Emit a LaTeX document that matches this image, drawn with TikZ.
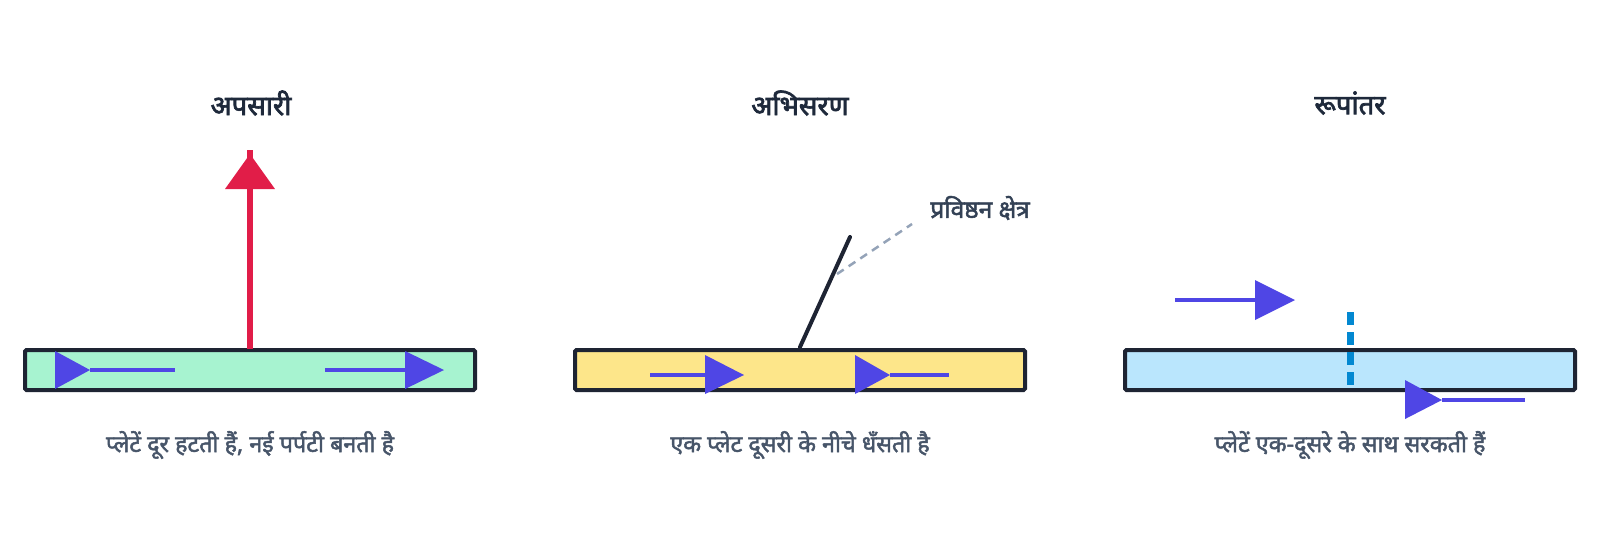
\documentclass[tikz,border=0pt]{standalone}
\usepackage{fontspec}
\newfontfamily\deva[Script=Devanagari, FakeBold=2.6]{Noto Sans}
\newfontfamily\devasemi[Script=Devanagari, FakeBold=2.0]{Noto Sans}
\definecolor{plateedge}{HTML}{1E2433}
\definecolor{mint}{HTML}{A7F3D0}
\definecolor{sand}{HTML}{FDE68A}
\definecolor{sky}{HTML}{BAE6FD}
\definecolor{redup}{HTML}{E11D48}
\definecolor{motion}{HTML}{4F46E5}
\definecolor{fault}{HTML}{0288D1}
\definecolor{leader}{HTML}{94A3B8}
\definecolor{titlecol}{HTML}{1E293B}
\definecolor{subcol}{HTML}{475569}
\definecolor{labcol}{HTML}{334155}
\tikzset{
  plate/.style={draw=plateedge, line width=4pt, rounded corners=1.5pt},
  titletext/.style={font=\deva\fontsize{27.5}{31}\selectfont, text=titlecol, inner sep=0pt},
  subtext/.style={font=\devasemi\fontsize{23.3}{27}\selectfont, text=subcol, inner sep=0pt},
  labtext/.style={font=\devasemi\fontsize{24.5}{28}\selectfont, text=labcol, inner sep=0pt},
  motionline/.style={draw=motion, line width=4.5pt},
  motionhead/.style={fill=motion},
}
\begin{document}
\begin{tikzpicture}[x=1pt,y=-1pt]
\fill[white] (0,0) rectangle (1600,550);
\useasboundingbox (0,0) rectangle (1600,550);

% ---------- Panel 1: divergent ----------
\node[titletext] (t1) at (251,103) {अपसारी};
\draw[plate, fill=mint] (25,350) rectangle (475,390);
\coordinate (p1top) at (250,349);
\coordinate (p1up) at (250,150);
\draw[draw=redup, line width=6.5pt] (p1top) -- (p1up);
\fill[redup] (225,189) -- (275,189) -- (250,154) -- cycle;
% left arrow (marker reversed)
\draw[motionline] (90,370) -- (175,370);
\fill[motionhead] (55,351) -- (55,389) -- (90,370) -- cycle;
% right arrow
\draw[motionline] (325,370) -- (405,370);
\fill[motionhead] (405,351) -- (405,389) -- (444,370) -- cycle;
\node[subtext] (s1) at (250,445) {प्लेटें दूर हटती हैं, नई पर्पटी बनती है};

% ---------- Panel 2: convergent ----------
\node[titletext] (t2) at (800,103) {अभिसरण};
\draw[plate, fill=sand] (575,350) rectangle (1025,390);
\coordinate (sub0) at (800,347);
\coordinate (sub1) at (850,237);
\draw[draw=plateedge, line width=4pt, line cap=round] (sub0) -- (sub1);
\coordinate (ld0) at (837,274);
\coordinate (ld1) at (912,224);
\draw[draw=leader, line width=2.5pt, dash pattern=on 8pt off 6pt] (ld0) -- (ld1);
\node[labtext] (lab) at (980,208) {प्रविष्ठन क्षेत्र};
\draw[motionline] (650,375) -- (705,375);
\fill[motionhead] (705,355) -- (705,394) -- (744,375) -- cycle;
\draw[motionline] (890,375) -- (949,375);
\fill[motionhead] (855,355) -- (855,394) -- (890,375) -- cycle;
\node[subtext] (s2) at (800,445) {एक प्लेट दूसरी के नीचे धँसती है};

% ---------- Panel 3: transform ----------
\node[titletext] (t3) at (1350,103) {रूपांतर};
\draw[plate, fill=sky] (1125,350) rectangle (1575,390);
\draw[motionline] (1175,300) -- (1255,300);
\fill[motionhead] (1255,280) -- (1255,320) -- (1295,300) -- cycle;
\coordinate (f0) at (1350,312);
\coordinate (f1) at (1350,385);
\draw[draw=fault, line width=7pt, dash pattern=on 12.5pt off 7.5pt] (f0) -- (f1);
\draw[motionline] (1442,400) -- (1525,400);
\fill[motionhead] (1405,380) -- (1405,419) -- (1442,400) -- cycle;
\node[subtext] (s3) at (1350,445) {प्लेटें एक-दूसरे के साथ सरकती हैं};
\end{tikzpicture}
\end{document}
